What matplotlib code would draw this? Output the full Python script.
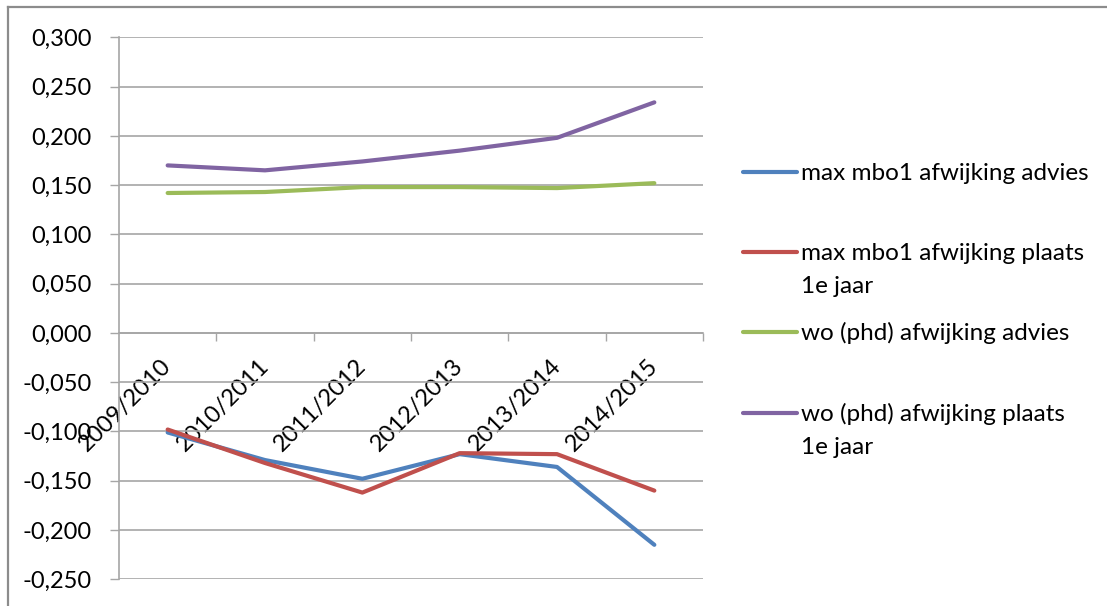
import matplotlib
matplotlib.use("Agg")
import matplotlib.pyplot as plt
from matplotlib.lines import Line2D
from matplotlib.ticker import FuncFormatter, FixedLocator
from matplotlib.transforms import ScaledTranslation

plt.rcParams['font.family'] = ['Lato', 'DejaVu Sans']

categories = ["2009/2010", "2010/2011", "2011/2012", "2012/2013", "2013/2014", "2014/2015"]
mbo_advies = [-0.101, -0.129, -0.148, -0.123, -0.136, -0.215]
mbo_plaats = [-0.098, -0.132, -0.162, -0.122, -0.123, -0.160]
wo_advies = [0.142, 0.143, 0.148, 0.148, 0.147, 0.152]
wo_plaats = [0.170, 0.165, 0.174, 0.185, 0.198, 0.234]
series_labels = ["max mbo1 afwijking advies", "max mbo1 afwijking plaats\n1e jaar",
                 "wo (phd) afwijking advies", "wo (phd) afwijking plaats\n1e jaar"]
series_colors = ["#4F81BD", "#C0504D", "#9BBB59", "#8064A2"]
y_ticks = [-0.25, -0.20, -0.15, -0.10, -0.05, 0.0, 0.05, 0.10, 0.15, 0.20, 0.25, 0.30]

W, H = 1107, 606
fig = plt.figure(figsize=(W / 100, H / 100), dpi=100)
ax = fig.add_axes([119 / W, 1 - 579.3 / H, (703 - 119) / W, (579.3 - 37.3) / H])

x = list(range(len(categories)))
for vals, col in zip([mbo_advies, mbo_plaats, wo_advies, wo_plaats], series_colors):
    ax.plot(x, vals, color=col, lw=3.0, solid_capstyle='round', solid_joinstyle='round', zorder=3)

ax.set_xlim(-0.5, len(categories) - 0.5)
ax.set_ylim(-0.25, 0.30)

grid_col = "#a6a6a6"
ax.set_yticks(y_ticks)
ax.yaxis.set_major_formatter(FuncFormatter(lambda v, p: f"{v:.3f}".replace(".", ",").replace("-0,000", "0,000")))
ax.yaxis.grid(True, color=grid_col, lw=1.2)
ax.set_axisbelow(True)
ax.tick_params(axis='y', length=6.5, width=1.0, color=grid_col, pad=13, labelsize=17)

for s in ['top', 'right']:
    ax.spines[s].set_visible(False)
ax.spines['left'].set_color(grid_col)
ax.spines['left'].set_linewidth(1.2)
ax.spines['bottom'].set_position(('data', 0))
ax.spines['bottom'].set_color(grid_col)
ax.spines['bottom'].set_linewidth(1.2)

ax.set_xticks(x)
ax.set_xticklabels(categories, rotation=45, ha='right', va='top', rotation_mode='anchor')
ax.xaxis.set_minor_locator(FixedLocator([i + 0.5 for i in x]))
ax.tick_params(axis='x', which='major', length=0, pad=18, labelsize=17)
ax.tick_params(axis='x', which='minor', length=6, width=1.0, color=grid_col)
shift = ScaledTranslation(-7 / 100, 3 / 100, fig.dpi_scale_trans)
for lab in ax.get_xticklabels():
    lab.set_transform(lab.get_transform() + shift)

# legend (manual, first line aligned with handle)
leg_y = [171.7, 251.7, 331.7, 412.7]
line_gap = 33
for lab, col, yy in zip(series_labels, series_colors, leg_y):
    yf = 1 - yy / H
    fig.add_artist(Line2D([743 / W, 797 / W], [yf, yf], color=col, lw=3.0, solid_capstyle='round'))
    for k, part in enumerate(lab.split("\n")):
        fig.text(801 / W, 1 - (yy + 8 + k * line_gap) / H, part, fontsize=17.5,
                 va='baseline', ha='left')

# chart border (top and left)
bc = "#8c8c8c"
fig.add_artist(Line2D([8 / W, 8 / W], [0, 1 - 7 / H], color=bc, lw=1.6))
fig.add_artist(Line2D([8 / W, 1], [1 - 7 / H, 1 - 7 / H], color=bc, lw=1.6))

fig.savefig("out.png", dpi=100)
